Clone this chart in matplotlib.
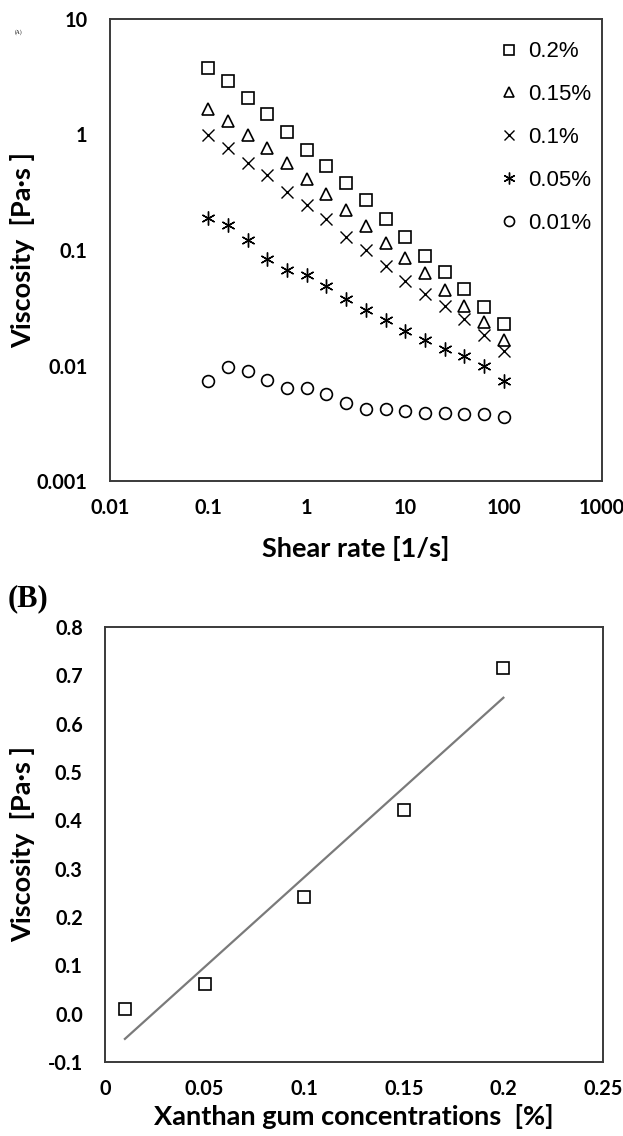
import numpy as np
import matplotlib
matplotlib.use("Agg")
import matplotlib.pyplot as plt

# ---- Data (A) ----
shear_rate = [0.1, 0.158, 0.251, 0.398, 0.631, 1.0, 1.58, 2.51, 3.98, 6.31,
              10.0, 15.8, 25.1, 39.8, 63.1, 100.0]
visc_020 = [3.78, 2.9, 2.08, 1.49, 1.05, 0.74, 0.53, 0.38, 0.27, 0.184,
            0.13, 0.0895, 0.0644, 0.046, 0.032, 0.023]
visc_015 = [1.65, 1.30, 1.0, 0.77, 0.57, 0.41, 0.306, 0.221, 0.161, 0.115,
            0.0855, 0.063, 0.045, 0.033, 0.0238, 0.0167]
visc_010 = [1.0, 0.76, 0.57, 0.45, 0.32, 0.243, 0.184, 0.13, 0.101, 0.072,
            0.054, 0.042, 0.0326, 0.0255, 0.0182, 0.0133]
visc_005 = [0.19, 0.166, 0.123, 0.083, 0.067, 0.061, 0.049, 0.038, 0.0305, 0.0246,
            0.020, 0.0167, 0.014, 0.0122, 0.010, 0.0073]
visc_001 = [0.0073, 0.0097, 0.0089, 0.0075, 0.0064, 0.0064, 0.0057, 0.0047, 0.0042, 0.0042,
            0.0040, 0.00385, 0.00385, 0.0038, 0.0038, 0.00356]
series_labels = ["0.2%", "0.15%", "0.1%", "0.05%", "0.01%"]
x_ticks_A = [0.01, 0.1, 1, 10, 100, 1000]
x_ticklabels_A = ["0.01", "0.1", "1", "10", "100", "1000"]
y_ticks_A = [0.001, 0.01, 0.1, 1, 10]
y_ticklabels_A = ["0.001", "0.01", "0.1", "1", "10"]

# ---- Data (B) ----
concentration = [0.01, 0.05, 0.1, 0.15, 0.2]
visc_B = [0.009, 0.062, 0.241, 0.421, 0.715]
x_ticks_B = [0, 0.05, 0.1, 0.15, 0.2, 0.25]
x_ticklabels_B = ["0", "0.05", "0.1", "0.15", "0.2", "0.25"]
y_ticks_B = [-0.1, 0.0, 0.1, 0.2, 0.3, 0.4, 0.5, 0.6, 0.7, 0.8]
y_ticklabels_B = ["-0.1", "0.0", "0.1", "0.2", "0.3", "0.4", "0.5", "0.6", "0.7", "0.8"]

W, H = 623, 1136
fig = plt.figure(figsize=(W / 100, H / 100), dpi=100)

def ax_rect(l, t, r, b):
    return [l / W, 1 - b / H, (r - l) / W, (b - t) / H]

tick_font = dict(family=["Lato", "DejaVu Sans"], weight="bold", size=14.3)
label_font = dict(family=["Lato", "DejaVu Sans"], weight="bold", size=19.5)
spine_col = "#3a3a3a"

# ---------- Panel A ----------
axA = fig.add_axes(ax_rect(110, 19, 602, 481))
axA.set_xscale("log")
axA.set_yscale("log")
axA.set_xlim(0.01, 1000)
axA.set_ylim(0.001, 10)

mk = dict(linestyle="none", color="black", markerfacecolor="none")
axA.plot(shear_rate, visc_020, marker="s", markersize=8.5, markeredgewidth=1.2, label=series_labels[0], **mk)
axA.plot(shear_rate, visc_015, marker="^", markersize=8.5, markeredgewidth=1.2, label=series_labels[1], **mk)
axA.plot(shear_rate, visc_010, marker="x", markersize=9, markeredgewidth=1.0, label=series_labels[2], **mk)
axA.plot(shear_rate, visc_005, marker=(6, 2, 0), markersize=10, markeredgewidth=1.0, label=series_labels[3], **mk)
axA.plot(shear_rate, visc_001, marker="o", markersize=8.5, markeredgewidth=1.2, label=series_labels[4], **mk)

axA.set_xticks(x_ticks_A)
axA.set_xticklabels(x_ticklabels_A)
axA.set_yticks(y_ticks_A)
axA.set_yticklabels(y_ticklabels_A)
axA.minorticks_off()
axA.tick_params(length=0, pad=12)
axA.tick_params(axis="y", pad=16)
for lab in axA.get_xticklabels() + axA.get_yticklabels():
    lab.set(**tick_font)
for s in axA.spines.values():
    s.set_color(spine_col)
    s.set_linewidth(1.4)
axA.set_xlabel("Shear rate [1/s]", labelpad=13, **label_font)
axA.set_ylabel("Viscosity  [Pa·s ]", **label_font)
axA.yaxis.set_label_coords((35 - 110) / 492, 0.5)

leg = axA.legend(loc="upper right", frameon=False, prop=dict(family=["Liberation Sans"], size=16),
                 markerscale=0.85, handlelength=0.8, handletextpad=0.45, labelspacing=0.98,
                 bbox_to_anchor=(1.01, 0.985), borderaxespad=0.3)

fig.text(15 / W, 1 - 32 / H, "(A)", fontsize=4, family="Liberation Serif", va="center")

# ---------- Panel B ----------
axB = fig.add_axes(ax_rect(105, 627, 603, 1062))
axB.set_xlim(0, 0.25)
axB.set_ylim(-0.1, 0.8)
coef = np.polyfit(concentration, visc_B, 1)
xfit = np.array([min(concentration), max(concentration)])
axB.plot(xfit, np.polyval(coef, xfit), color="#7a7a7a", linewidth=1.6, zorder=2)
axB.plot(concentration, visc_B, marker="s", markersize=8.5, markeredgewidth=1.2, zorder=3, **mk)

axB.set_xticks(x_ticks_B)
axB.set_xticklabels(x_ticklabels_B)
axB.set_yticks(y_ticks_B)
axB.set_yticklabels(y_ticklabels_B)
axB.tick_params(length=0, pad=12)
axB.tick_params(axis="y", pad=16)
for lab in axB.get_xticklabels() + axB.get_yticklabels():
    lab.set(**tick_font)
for s in axB.spines.values():
    s.set_color(spine_col)
    s.set_linewidth(1.4)
axB.set_xlabel("Xanthan gum concentrations  [%]", labelpad=4, **label_font)
axB.set_ylabel("Viscosity  [Pa·s ]", **label_font)
axB.yaxis.set_label_coords((35 - 105) / 498, 0.5)

fig.text(8 / W, 1 - 599 / H, "(B)", fontsize=22, weight="bold", family="Liberation Serif", va="center")

fig.savefig("out.png", dpi=100)
